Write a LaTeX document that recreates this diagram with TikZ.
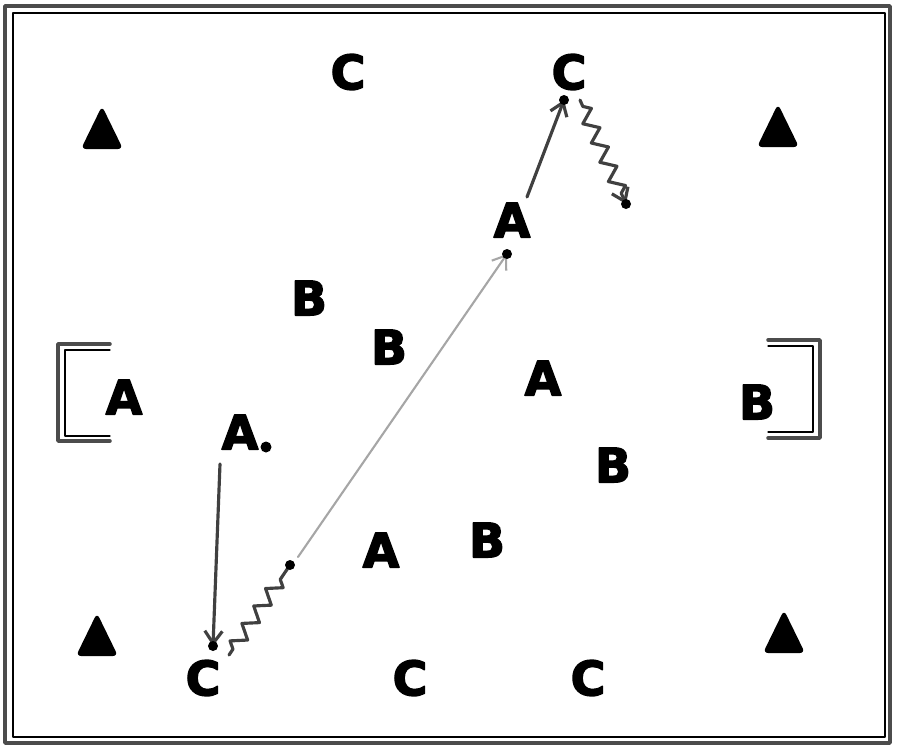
\documentclass[tikz,border=0pt]{standalone}
\usepackage{fontspec}
\newfontfamily\chu[FakeBold=3]{DejaVu Sans}
\usetikzlibrary{arrows.meta,decorations.pathmorphing}
\tikzset{
  cauthu/.style={font=\chu\bfseries\fontsize{27}{27}\selectfont, inner sep=0pt},
  vien/.style={gray!60!black, line width=2pt},
  chuyen/.style={gray!70, line width=1.2pt},
  chay/.style={gray!50!black, line width=1.8pt},
  rebong/.style={gray!50!black, line width=1.8pt, decorate,
    decoration={zigzag, amplitude=4pt, segment length=12pt, pre length=4pt, post length=6pt}}
}
\begin{document}
\begin{tikzpicture}[x=0.02cm, y=-0.02cm, line join=round, line cap=round,
  >={Straight Barb[length=7pt,width=10pt]}]
\useasboundingbox (0,0) rectangle (900,752);
% khung sân
\draw[vien] (5,6) rectangle (890,743);
\draw[line width=0.8pt] (13,13) rectangle (885,737);
% khung thành
\draw[vien] (110,344)--(58,344)--(58,441)--(110,441);
\draw[line width=0.6pt] (110,350)--(65,350)--(65,436)--(110,436);
\draw[vien] (768,340)--(820,340)--(820,438)--(768,438);
\draw[line width=0.6pt] (768,346)--(813,346)--(813,432)--(768,432);
% cọc
\foreach \x/\y in {102/128, 778/126, 97/635, 784/632}
\fill[rounded corners=3pt] (\x,\y-22)--(\x+21,\y+21)--(\x-21,\y+21)--cycle;
% cầu thủ
\foreach \ten/\x/\y in {C1/348/72, C2/569/72, C3/203/678, C4/410/678, C5/588/678}
\node[cauthu] (\ten) at (\x,\y) {C};
\foreach \ten/\x/\y in {B1/309/298, B2/389/347, B3/613/465, B4/487/540, B5/757/402}
\node[cauthu] (\ten) at (\x,\y) {B};
\foreach \ten/\x/\y in {A1/512/220, A2/124/397, A3/543/378, A4/381/550, A5/240/432}
\node[cauthu] (\ten) at (\x,\y) {A};
% bóng
\fill (266,447) circle (5.5);
% các điểm đầu mút
\coordinate (a1) at (527,197);
\coordinate (c2) at (564,100);
\coordinate (c2r) at (580,100);
\coordinate (d1) at (626,204);
\coordinate (a5) at (220,464);
\coordinate (c3) at (213,646);
\coordinate (c3r) at (229,655);
\coordinate (p1) at (290,565);
\coordinate (p2) at (298,557);
\coordinate (a1d) at (507,254);
% đường chạy, chuyền, rê bóng
\draw[chay,->] (a1)--(c2);
\draw[rebong,->] (c2r)--(d1);
\draw[chay,->] (a5)--(c3);
\draw[rebong] (c3r)--(p1);
\draw[chuyen,->] (p2)--(a1d);
\foreach \p in {c2,d1,c3,p1,a1d}
\fill (\p) circle (5);
\end{tikzpicture}
\end{document}
